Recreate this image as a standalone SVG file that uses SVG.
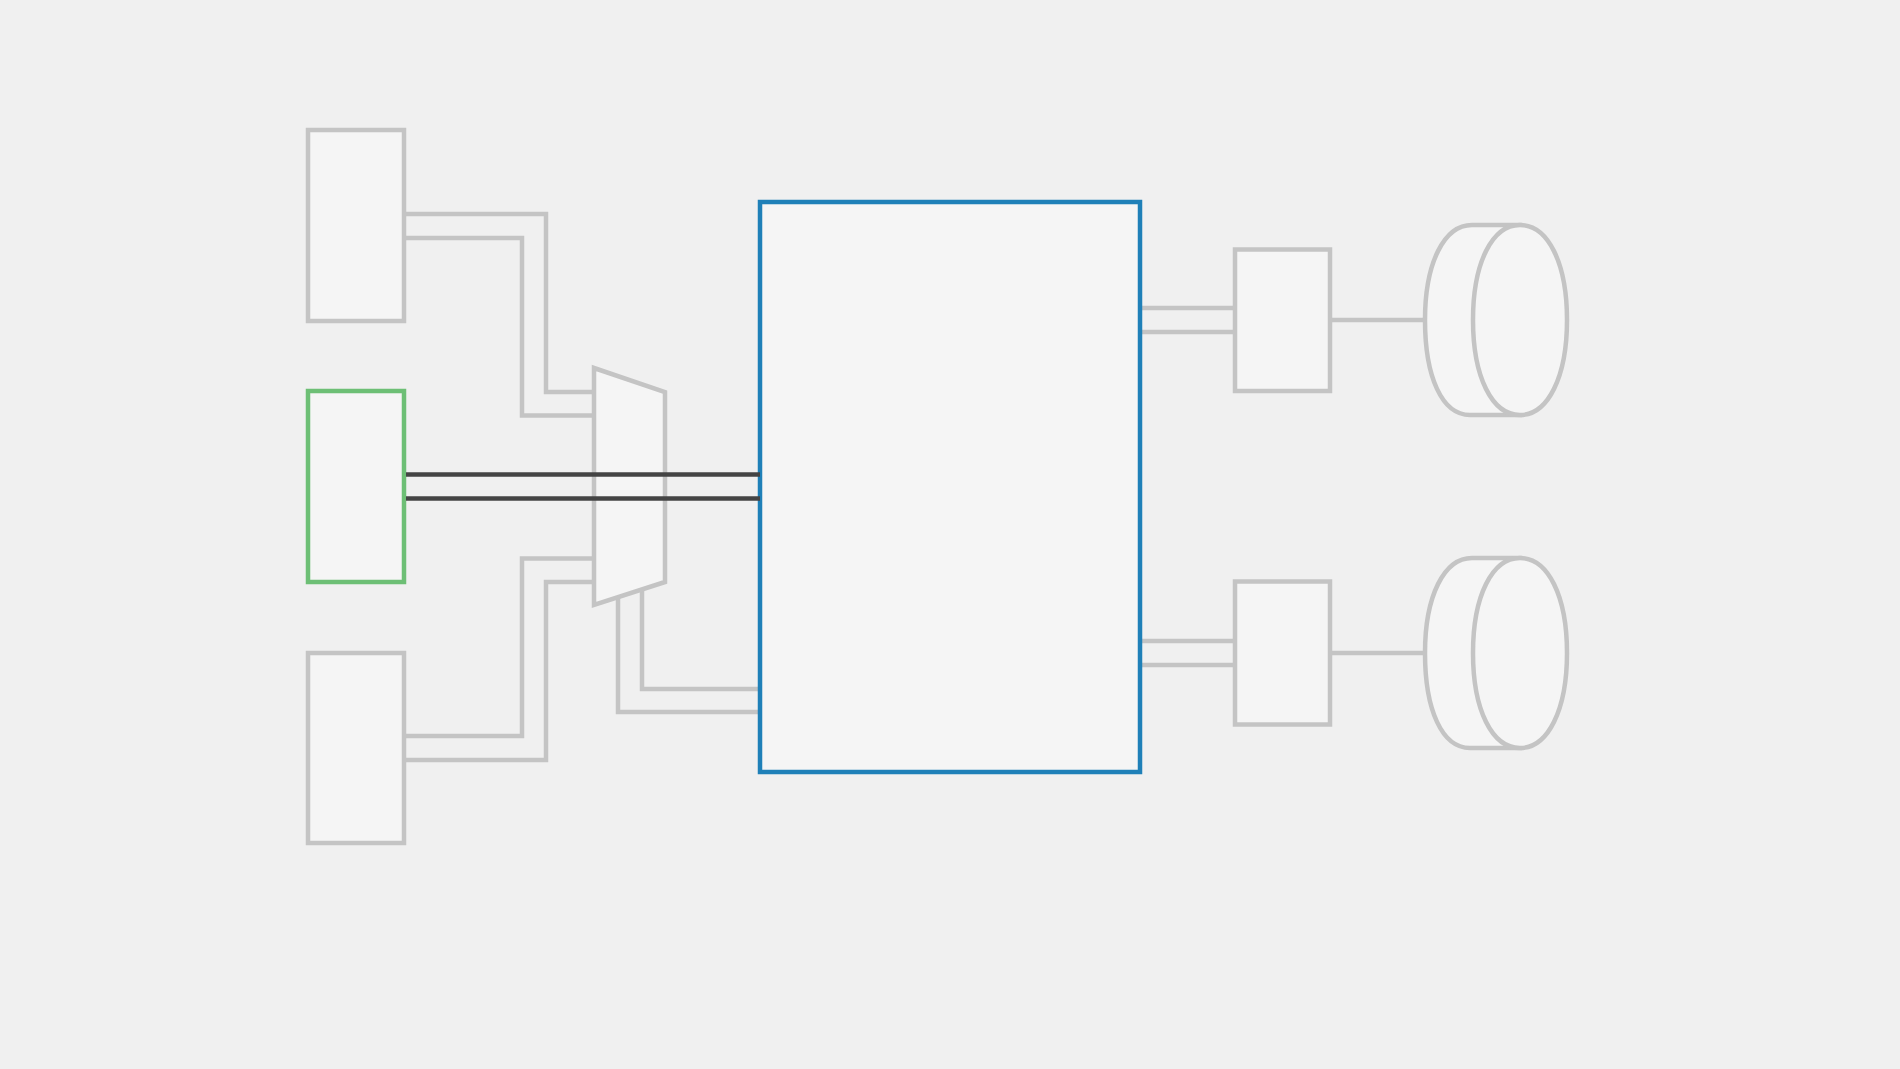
<svg xmlns="http://www.w3.org/2000/svg" width="1900" height="1069" viewBox="0 0 1900 1069">
  <style>
    .node { fill: #f5f5f5; stroke: #c4c4c4; stroke-width: 4.5; }
    .green { stroke: #6dbf75; }
    .blue { stroke: #1f80b8; }
    .wire { fill: none; stroke: #c4c4c4; stroke-width: 4.5; }
    .bus { fill: none; stroke: #444444; stroke-width: 4.5; }
  </style>
  <rect x="0" y="0" width="1900" height="1069" fill="#f0f0f0"/>

  <g id="connectors">
    <polyline class="wire" points="406,214 546,214 546,392 594,392"/>
    <polyline class="wire" points="406,238 522,238 522,415.5 594,415.5"/>
    <polyline class="wire" points="406,736 522,736 522,558.5 594,558.5"/>
    <polyline class="wire" points="406,760 546,760 546,582 594,582"/>
    <polyline class="wire" points="618,597 618,712 760,712"/>
    <polyline class="wire" points="642,589.5 642,689 760,689"/>
    <line class="wire" x1="1140" y1="308" x2="1235" y2="308"/>
    <line class="wire" x1="1140" y1="332" x2="1235" y2="332"/>
    <line class="wire" x1="1330" y1="320" x2="1425" y2="320"/>
    <line class="wire" x1="1140" y1="641" x2="1235" y2="641"/>
    <line class="wire" x1="1140" y1="665" x2="1235" y2="665"/>
    <line class="wire" x1="1330" y1="653" x2="1425" y2="653"/>
  </g>

  <g id="src-top">
    <rect class="node" x="308" y="130" width="96" height="191"/>
  </g>
  <g id="src-mid">
    <rect class="node green" x="308" y="391" width="96" height="191"/>
  </g>
  <g id="src-bottom">
    <rect class="node" x="308" y="653" width="96" height="190"/>
  </g>
  <g id="mux">
    <polygon class="node" points="594,368 665,392 665,582 594,605"/>
  </g>
  <g id="main">
    <rect class="node blue" x="760" y="202" width="380" height="570"/>
  </g>
  <g id="box-top">
    <rect class="node" x="1235" y="249.5" width="95" height="141.5"/>
  </g>
  <g id="box-bottom">
    <rect class="node" x="1235" y="581.5" width="95" height="143"/>
  </g>
  <g id="drum-top">
    <path class="node" d="M1520,225 L1472,225 C1444,225 1425,263 1425,320 C1425,377 1442,415 1470,415 L1520,415 Z"/>
    <path class="node" d="M1520,225 C1548,225 1567,263 1567,320 C1567,377 1548,415 1520,415 C1492,415 1473,377 1473,320 C1473,263 1492,225 1520,225 Z"/>
  </g>
  <g id="drum-bottom">
    <path class="node" d="M1520,558 L1472,558 C1444,558 1425,596 1425,653 C1425,710 1442,748 1470,748 L1520,748 Z"/>
    <path class="node" d="M1520,558 C1548,558 1567,596 1567,653 C1567,710 1548,748 1520,748 C1492,748 1473,710 1473,653 C1473,596 1492,558 1520,558 Z"/>
  </g>

  <g id="bus-connectors">
    <line class="bus" x1="406" y1="474.5" x2="760" y2="474.5"/>
    <line class="bus" x1="406" y1="498.5" x2="760" y2="498.5"/>
  </g>
</svg>
